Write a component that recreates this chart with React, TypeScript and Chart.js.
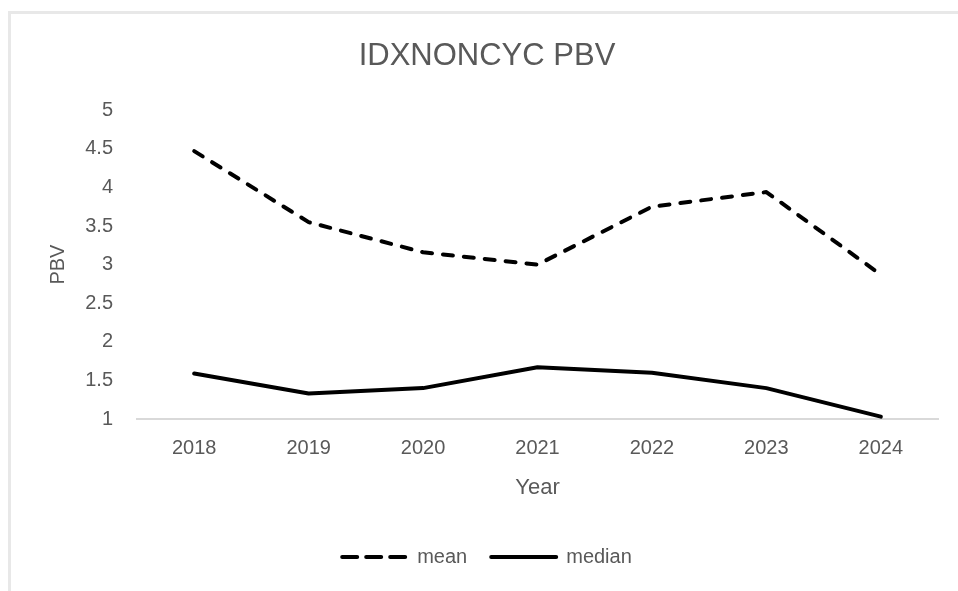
import React, { useEffect, useRef } from "react";
import { Chart, registerables } from "chart.js";

Chart.register(...registerables);

// ---- data ----
const years = ["2018", "2019", "2020", "2021", "2022", "2023", "2024"];
const meanPBV = [4.47, 3.55, 3.16, 3.0, 3.75, 3.94, 2.87];
const medianPBV = [1.59, 1.33, 1.4, 1.67, 1.6, 1.4, 1.03];
const seriesNames = ["mean", "median"];
const yMin = 1;
const yMax = 5;
const yStep = 0.5;
const chartTitle = "IDXNONCYC PBV";
const xTitle = "Year";
const yTitle = "PBV";

const W = 958;
const H = 591;
const TEXT = "#595959";
const SANS = '"Liberation Sans", Arial, sans-serif';

const framePlugin = {
  id: "frame",
  beforeDraw(chart: any) {
    const ctx = chart.ctx;
    ctx.save();
    ctx.fillStyle = "#ffffff";
    ctx.fillRect(0, 0, chart.width, chart.height);
    ctx.strokeStyle = "#e8e8e8";
    ctx.lineWidth = 3;
    ctx.beginPath();
    ctx.moveTo(9.5, chart.height + 5);
    ctx.lineTo(9.5, 12.5);
    ctx.lineTo(chart.width + 5, 12.5);
    ctx.stroke();
    ctx.restore();
  },
};

export default function App() {
  const ref = useRef<HTMLCanvasElement | null>(null);

  useEffect(() => {
    if (!ref.current) return;
    Chart.defaults.font.family = SANS;
    Chart.defaults.color = TEXT;
    const chart = new Chart(ref.current, {
      type: "line",
      data: {
        labels: years,
        datasets: [
          {
            label: seriesNames[0],
            data: meanPBV,
            borderColor: "#000000",
            backgroundColor: "#000000",
            borderWidth: 4,
            borderDash: [10, 11],
            borderCapStyle: "round",
            borderJoinStyle: "round",
            pointRadius: 0,
            pointHoverRadius: 0,
            tension: 0,
            fill: false,
          },
          {
            label: seriesNames[1],
            data: medianPBV,
            borderColor: "#000000",
            backgroundColor: "#000000",
            borderWidth: 4,
            borderCapStyle: "round",
            borderJoinStyle: "round",
            pointRadius: 0,
            pointHoverRadius: 0,
            tension: 0,
            fill: false,
          },
        ],
      },
      options: {
        responsive: false,
        maintainAspectRatio: false,
        animation: false,
        devicePixelRatio: 1,
        events: [],
        layout: { padding: { left: 36, right: 20, top: 0, bottom: 14 } },
        plugins: {
          tooltip: { enabled: false },
          title: {
            display: true,
            text: chartTitle,
            color: TEXT,
            font: { family: SANS, size: 31, weight: "normal" },
            padding: { top: 38, bottom: 35 },
          },
          legend: {
            display: true,
            position: "bottom",
            labels: {
              usePointStyle: true,
              pointStyle: "line",
              pointStyleWidth: 65,
              padding: 24,
              color: TEXT,
              font: { family: SANS, size: 20 },
              generateLabels(chart: any) {
                const items = Chart.defaults.plugins.legend.labels.generateLabels(chart);
                return items.map((it: any, i: number) => ({
                  ...it,
                  pointStyle: "line",
                  lineWidth: 4,
                  lineCap: "round",
                  lineDash: i === 0 ? [15, 9] : [],
                  strokeStyle: "#000000",
                  fillStyle: "#000000",
                }));
              },
            },
          },
        },
        scales: {
          x: {
            type: "category",
            offset: true,
            grid: { display: false, drawTicks: false },
            border: { display: true, color: "#d9d9d9", width: 2 },
            ticks: {
              padding: 17,
              color: TEXT,
              font: { family: SANS, size: 20 },
              maxRotation: 0,
            },
            title: {
              display: true,
              text: xTitle,
              color: TEXT,
              font: { family: SANS, size: 22 },
              padding: { top: 0, bottom: 22 },
            },
            afterFit(scale: any) {
              scale.height = 104;
            },
          },
          y: {
            type: "linear",
            min: yMin,
            max: yMax,
            grid: { display: false, drawTicks: false },
            border: { display: false },
            ticks: {
              stepSize: yStep,
              padding: 24,
              color: TEXT,
              font: { family: SANS, size: 20 },
              callback: (v: any) => String(v),
            },
            title: {
              display: true,
              text: yTitle,
              color: TEXT,
              font: { family: SANS, size: 20 },
              padding: { top: 10, bottom: 0 },
            },
            afterFit(scale: any) {
              scale.width = 101;
            },
          },
        },
      },
      plugins: [framePlugin],
    });
    return () => chart.destroy();
  }, []);

  return (
    <div style={{ position: "fixed", left: 0, top: 0, width: W, height: H, overflow: "hidden", background: "#fff" }}>
      <canvas ref={ref} width={W} height={H} style={{ display: "block", width: W, height: H }} />
    </div>
  );
}
